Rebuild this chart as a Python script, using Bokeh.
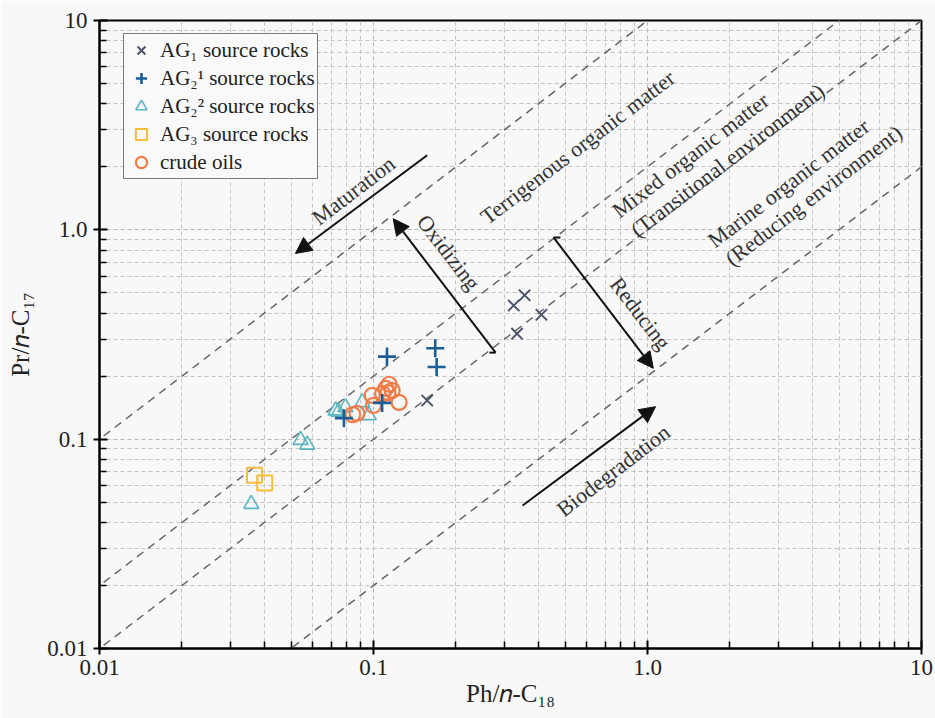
from bokeh.plotting import figure
from bokeh.models import (FixedTicker, Legend, LegendItem, Label, Arrow,
                          NormalHead, Range1d)
from bokeh.embed import file_html
from bokeh.resources import INLINE

# ---------------- data ----------------
ag1_x = [0.157, 0.325, 0.356, 0.410, 0.334]
ag1_y = [0.153, 0.435, 0.487, 0.393, 0.319]

ag21_x = [0.112, 0.168, 0.170, 0.1075, 0.078]
ag21_y = [0.248, 0.272, 0.221, 0.149, 0.126]

ag22_x = [0.0358, 0.0542, 0.0573, 0.0727, 0.0745, 0.0790, 0.0910, 0.0961]
ag22_y = [0.049, 0.099, 0.094, 0.137, 0.135, 0.142, 0.150, 0.130]

ag3_x = [0.0368, 0.0401]
ag3_y = [0.0672, 0.0617]

oil_x = [0.084, 0.087, 0.099, 0.100, 0.108, 0.111, 0.114, 0.117, 0.113, 0.124]
oil_y = [0.131, 0.133, 0.162, 0.145, 0.165, 0.175, 0.183, 0.171, 0.167, 0.150]

series_labels = ["AG\u2081 source rocks", "AG\u2082\u00b9 source rocks",
                 "AG\u2082\u00b2 source rocks", "AG\u2083 source rocks",
                 "crude oils"]

tick_values = [0.01, 0.1, 1, 10]
x_tick_labels = ["0.01", "0.1", "1.0", "10"]
y_tick_labels = ["0.01", "0.1", "1.0", "10"]
minor_mults = [2, 3, 4, 5, 6, 7, 8, 9]

# Pr/n-C17 = k * Ph/n-C18 boundary lines
boundary_ratios = [10, 2, 1, 0.2]

SERIF = "Liberation Serif"

# ---------------- figure ----------------
p = figure(width=935, height=718, x_axis_type="log", y_axis_type="log",
           x_range=Range1d(0.01, 10), y_range=Range1d(0.01, 10),
           output_backend="svg", toolbar_location=None,
           min_border_left=99, min_border_right=14,
           min_border_top=20, min_border_bottom=70)

bg = "#f8f8f8"
p.background_fill_color = bg
p.border_fill_color = bg
p.outline_line_color = "black"
p.outline_line_width = 2

minor = [m * t for t in tick_values[:-1] for m in minor_mults]
for ax, labels in ((p.xaxis[0], x_tick_labels), (p.yaxis[0], y_tick_labels)):
    ax.ticker = FixedTicker(ticks=tick_values, minor_ticks=minor)
    ax.major_label_overrides = {v: l for v, l in zip(tick_values, labels)}
    ax.axis_line_width = 2
    ax.axis_line_color = "black"
    ax.major_tick_line_width = 2
    ax.major_tick_line_color = "black"
    ax.minor_tick_line_width = 1.5
    ax.minor_tick_line_color = "black"
    ax.major_tick_in = 8
    ax.major_tick_out = 6
    ax.minor_tick_in = 7
    ax.minor_tick_out = 0
    ax.major_label_text_font = SERIF
    ax.major_label_text_font_size = "23px"
    ax.major_label_text_color = "#222222"
    ax.axis_label_text_font = SERIF
    ax.axis_label_text_font_size = "25px"
    ax.axis_label_text_font_style = "normal"
    ax.axis_label_text_color = "#222222"

p.xaxis.axis_label = "Ph/\U0001D45B-C\u2081\u2088"
p.yaxis.axis_label = "Pr/\U0001D45B-C\u2081\u2087"
p.xaxis.major_label_standoff = 5
p.yaxis.major_label_standoff = 6
p.xaxis.axis_label_standoff = 2
p.yaxis.axis_label_standoff = 10

for g in (p.xgrid[0], p.ygrid[0]):
    g.grid_line_color = "#b8b8b8"
    g.grid_line_dash = "4 3"
    g.grid_line_width = 1
    g.minor_grid_line_color = "#c4c4c4"
    g.minor_grid_line_dash = "4 3"
    g.minor_grid_line_width = 1

# boundary lines
for k in boundary_ratios:
    xs = [0.001, 100.0]
    p.line(xs, [k * x for x in xs], line_color="#666666", line_width=1.5,
           line_dash="8 6")

# ---------------- series ----------------
r_tri = p.scatter(ag22_x, ag22_y, marker="triangle", size=15, fill_color=None,
                  line_color="#5cb6c0", line_width=1.6)
r_sq = p.scatter(ag3_x, ag3_y, marker="square", size=15, fill_color=None,
                 line_color="#f3bd3a", line_width=2)
r_oil = p.scatter(oil_x, oil_y, marker="circle", size=15, fill_color=None,
                  line_color="#ee7b48", line_width=2.2)
r_plus = p.scatter(ag21_x, ag21_y, marker="cross", size=18,
                   line_color="#1b5e96", line_width=2.6)
r_x = p.scatter(ag1_x, ag1_y, marker="x", size=16,
                line_color="#4d5468", line_width=2)

legend = Legend(items=[LegendItem(label=series_labels[0], renderers=[r_x]),
                       LegendItem(label=series_labels[1], renderers=[r_plus]),
                       LegendItem(label=series_labels[2], renderers=[r_tri]),
                       LegendItem(label=series_labels[3], renderers=[r_sq]),
                       LegendItem(label=series_labels[4], renderers=[r_oil])],
                location=(24, 469), margin=0, padding=2, spacing=0,
                glyph_width=30, glyph_height=28, label_height=20,
                label_standoff=4,
                label_text_font=SERIF, label_text_font_size="21px",
                label_text_color="#222222",
                border_line_color="black", border_line_width=1,
                background_fill_color="#f9f9f9", background_fill_alpha=1)
p.add_layout(legend)

# ---------------- arrows ----------------
def arrow(x0, y0, x1, y1):
    p.add_layout(Arrow(x_start=x0, y_start=y0, x_end=x1, y_end=y1,
                       line_color="#111111", line_width=2,
                       end=NormalHead(size=16, fill_color="#111111",
                                      line_color="#111111")))

arrow(0.157, 2.27, 0.0519, 0.771)     # Maturation
arrow(0.279, 0.259, 0.118, 1.13)      # Oxidizing
arrow(0.454, 0.92, 1.05, 0.218)       # Reducing
arrow(0.35, 0.0482, 1.07, 0.143)      # Biodegradation

# small tail ticks
p.segment(x0=[0.265, 0.454], y0=[0.259, 0.92], x1=[0.279, 0.481],
          y1=[0.259, 0.92], line_color="#111111", line_width=2)

# ---------------- texts ----------------
A = 37.4
def label(x, y, text, angle):
    p.add_layout(Label(x=x, y=y, text=text, angle=angle, angle_units="deg",
                       text_align="center", text_baseline="middle",
                       text_font=SERIF, text_font_size="22px",
                       text_color="#333333"))

label(0.0845, 1.54, "Maturation", A)
label(0.188, 0.78, "Oxidizing", A - 90)
label(0.942, 0.399, "Reducing", A - 90)
label(0.75, 0.0708, "Biodegradation", A)
label(0.556, 2.48, "Terrigenous organic matter", A)
label(1.435, 2.27, "Mixed organic matter", A)
label(1.96, 2.15, "(Transitional environment)", A)
label(3.27, 1.67, "Marine organic matter", A)
label(4.04, 1.46, "(Reducing environment)", A)

open("out.html", "w").write(file_html(p, INLINE))
